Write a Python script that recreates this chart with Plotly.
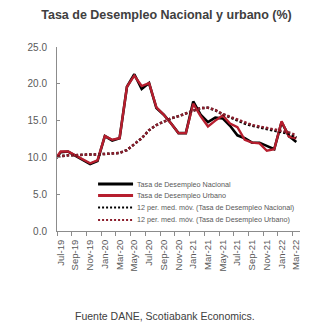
import plotly.graph_objects as go

months = ["Jun-19", "Jul-19", "Aug-19", "Sep-19", "Oct-19", "Nov-19", "Dec-19",
          "Jan-20", "Feb-20", "Mar-20", "Apr-20", "May-20", "Jun-20", "Jul-20",
          "Aug-20", "Sep-20", "Oct-20", "Nov-20", "Dec-20", "Jan-21", "Feb-21",
          "Mar-21", "Apr-21", "May-21", "Jun-21", "Jul-21", "Aug-21", "Sep-21",
          "Oct-21", "Nov-21", "Dec-21", "Jan-22", "Feb-22", "Mar-22"]

nacional = [9.4, 10.7, 10.8, 10.2, 9.7, 9.1, 9.5,
            12.9, 12.3, 12.6, 19.6, 21.3, 19.3, 20.1,
            16.7, 15.8, 14.6, 13.3, 13.3, 17.6, 15.8,
            14.8, 15.4, 15.3, 14.3, 13.0, 12.6, 12.0,
            12.0, 11.6, 11.1, 14.8, 12.9, 12.1]

urbano = [9.4, 10.8, 10.8, 10.3, 9.8, 9.2, 9.6,
          12.9, 12.4, 12.6, 19.6, 21.1, 19.7, 20.1,
          16.8, 15.8, 14.6, 13.3, 13.3, 17.3, 15.6,
          14.2, 15.0, 15.7, 14.6, 14.1, 12.4, 12.0,
          11.9, 10.9, 11.1, 14.9, 12.8, 12.6]

mm_nacional = [10.0, 10.2, 10.3, 10.3, 10.4, 10.4, 10.4,
               10.5, 10.5, 10.6, 11.0, 11.8, 12.6, 13.7,
               14.4, 14.85, 15.3, 15.6, 16.0, 16.35, 16.7,
               16.75, 16.4, 15.85, 15.4, 15.0, 14.6, 14.3,
               14.1, 13.9, 13.7, 13.5, 13.2, 12.7]

mm_urbano = [10.0, 10.2, 10.3, 10.3, 10.4, 10.4, 10.4,
             10.5, 10.5, 10.6, 11.0, 11.8, 12.6, 13.7,
             14.4, 14.85, 15.3, 15.6, 16.0, 16.35, 16.7,
             16.75, 16.45, 15.9, 15.5, 15.1, 14.7, 14.4,
             14.2, 14.0, 13.8, 13.6, 13.4, 13.0]

legend_names = ["Tasa de Desempleo Nacional",
                "Tasa de Desempleo Urbano",
                "12 per. med. móv. (Tasa de Desempleo Nacional)",
                "12 per. med. móv. (Tasa de Desempleo Urbano)"]

BLACK = "#000000"
RED = "#B61E2E"
RED_DOT = "#8C1D2C"

x = list(range(-1, len(months) - 1))  # Jul-19 -> 0

fig = go.Figure()
fig.add_trace(go.Scatter(x=x, y=nacional, mode="lines", name=legend_names[0],
                         line=dict(color=BLACK, width=2.6), showlegend=False))
fig.add_trace(go.Scatter(x=x, y=urbano, mode="lines", name=legend_names[1],
                         line=dict(color=RED, width=2.4), showlegend=False))
fig.add_trace(go.Scatter(x=x, y=mm_nacional, mode="lines", name=legend_names[2],
                         line=dict(color=BLACK, width=2.5, dash="2.5px,2px"),
                         showlegend=False))
fig.add_trace(go.Scatter(x=x, y=mm_urbano, mode="lines", name=legend_names[3],
                         line=dict(color=RED_DOT, width=2.5, dash="2.5px,2px"),
                         showlegend=False))

tickvals = [i for i in range(0, len(months) - 1, 2)]
ticktext = [months[i + 1] for i in tickvals]

# manual legend (compact spacing)
leg_y = [0.2554, 0.193, 0.1277, 0.0598]
leg_styles = [dict(color=BLACK, width=2.8), dict(color=RED, width=2.8),
              dict(color=BLACK, width=2.2, dash="2px,2px"),
              dict(color=RED_DOT, width=2.2, dash="2px,2px")]
for yy, st, nm in zip(leg_y, leg_styles, legend_names):
    fig.add_shape(type="line", xref="paper", yref="paper", x0=0.169, x1=0.313,
                  y0=yy, y1=yy, line=st)
    fig.add_annotation(xref="paper", yref="paper", x=0.322, y=yy, text=nm,
                       showarrow=False, xanchor="left", yanchor="middle",
                       font=dict(size=7.2, color="#595959"))

fig.add_annotation(xref="paper", yref="paper", x=0.444, y=-0.462,
                   text="Fuente DANE, Scotiabank Economics.", showarrow=False,
                   xanchor="center", yanchor="middle",
                   font=dict(size=10.5, color="#404040"))

fig.update_layout(
    width=333, height=327,
    margin=dict(l=57, r=33, t=47, b=96, pad=0),
    paper_bgcolor="white", plot_bgcolor="white",
    font=dict(family="Liberation Sans, Arial, sans-serif", color="#595959"),
    title=dict(text="<b>Tasa de Desempleo Nacional y urbano (%)</b>",
               x=0.5, xanchor="center", y=1 - 15 / 327, yanchor="middle",
               yref="container", font=dict(size=12.5, color="#404040")),
    showlegend=False,
)
fig.update_xaxes(range=[-0.5, 32.5], tickmode="array", tickvals=tickvals,
                 ticktext=ticktext, tickangle=-90, ticks="", showgrid=False,
                 zeroline=False, showline=True, linecolor="#8c8c8c", linewidth=1,
                 tickfont=dict(size=9.5, color="#595959"), ticklabelstandoff=4,
                 minor=dict(ticks="outside", tick0=-0.5, dtick=2, ticklen=4,
                            tickcolor="#8c8c8c", showgrid=False))
fig.update_yaxes(range=[0, 25], dtick=5, tickformat=".1f", ticks="inside",
                 ticklen=3, tickcolor="#8c8c8c", showgrid=False, zeroline=False,
                 showline=True, linecolor="#8c8c8c", linewidth=1,
                 tickfont=dict(size=10, color="#595959"), ticklabelstandoff=7)

fig.write_html("out.html")
